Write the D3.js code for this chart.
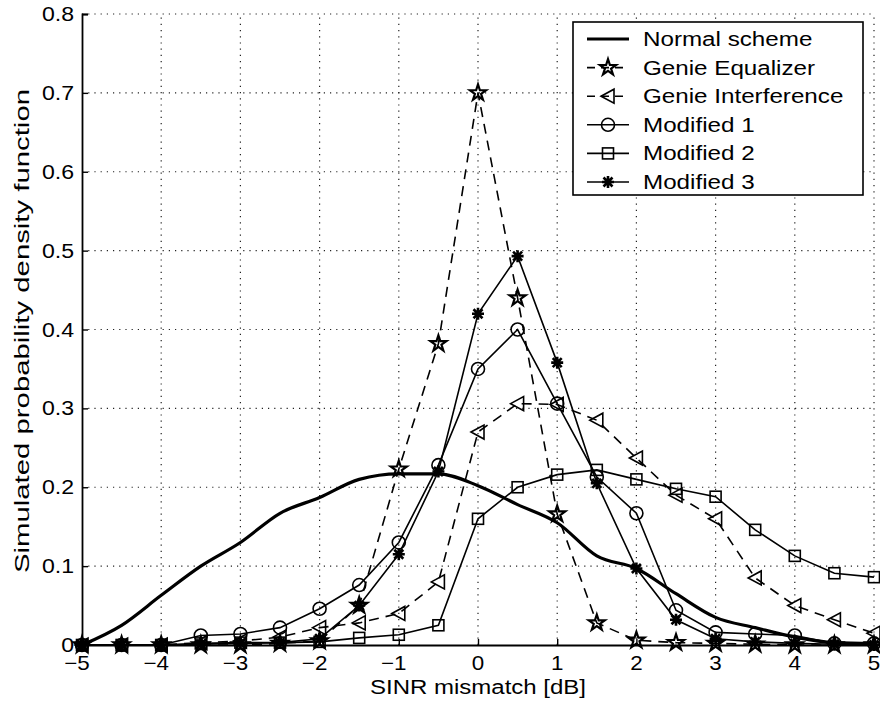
<!DOCTYPE html>
<html>
<head>
<meta charset="utf-8">
<script src="https://cdn.jsdelivr.net/npm/d3@7"></script>
<style>
  body { margin: 0; background: #fff; }
  svg text { font-family: "Liberation Sans", Arial, sans-serif; fill: #000; }
</style>
</head>
<body>
<svg id="chart" width="880" height="703"></svg>
<script>
// x positions (SINR mismatch in dB)
var xVals = [-5, -4.5, -4, -3.5, -3, -2.5, -2, -1.5, -1, -0.5, 0, 0.5, 1, 1.5, 2, 2.5, 3, 3.5, 4, 4.5, 5];

var normalScheme = [0, 0.025, 0.063, 0.1, 0.13, 0.167, 0.187, 0.21, 0.217, 0.217, 0.202, 0.178, 0.155, 0.113, 0.097, 0.065, 0.035, 0.022, 0.01, 0.003, 0.002];
var genieEqualizer = [0, 0, 0, 0, 0, 0.002, 0.005, 0.05, 0.223, 0.382, 0.70, 0.44, 0.166, 0.028, 0.006, 0.003, 0.002, 0.001, 0, 0, 0];
var genieInterference = [0, 0, 0, 0.003, 0.005, 0.01, 0.022, 0.028, 0.04, 0.08, 0.27, 0.306, 0.305, 0.285, 0.237, 0.19, 0.16, 0.085, 0.05, 0.032, 0.015];
var modified1 = [0, 0, 0, 0.012, 0.014, 0.022, 0.046, 0.076, 0.13, 0.228, 0.35, 0.40, 0.306, 0.213, 0.167, 0.044, 0.016, 0.014, 0.012, 0.002, 0.002];
var modified2 = [0, 0, 0, 0.002, 0.003, 0.003, 0.004, 0.009, 0.013, 0.025, 0.16, 0.20, 0.216, 0.222, 0.21, 0.198, 0.188, 0.146, 0.113, 0.091, 0.086];
var modified3 = [0, 0, 0, 0.001, 0.002, 0.003, 0.008, 0.05, 0.115, 0.22, 0.42, 0.493, 0.358, 0.205, 0.097, 0.032, 0.008, 0.004, 0.002, 0.001, 0];

var xTicks = [-5, -4, -3, -2, -1, 0, 1, 2, 3, 4, 5];
var yTicks = [0, 0.1, 0.2, 0.3, 0.4, 0.5, 0.6, 0.7, 0.8];

var seriesNames = ["Normal scheme", "Genie Equalizer", "Genie Interference", "Modified 1", "Modified 2", "Modified 3"];
var seriesValues = [normalScheme, genieEqualizer, genieInterference, modified1, modified2, modified3];
var seriesMarkers = ["none", "star", "triangle", "circle", "square", "asterisk"];
var seriesDashed = [false, true, true, false, false, false];

var svg = d3.select("#chart");

// plot area edges (note: "top" is reserved in browsers)
var pLeft = 82, pRight = 874, pTop = 14, pBottom = 645;

var x = d3.scaleLinear().domain([-5, 5]).range([pLeft, pRight]);
var y = d3.scaleLinear().domain([0, 0.8]).range([pBottom, pTop]);

function fmt(v) {
  return v < 0 ? "\u2212" + Math.abs(v) : String(v);
}

// text helper, the scanned font is a bit wider than Arial
function addText(g, tx, ty, str, size, sx, anchor) {
  return g.append("text")
      .attr("transform", "translate(" + tx + "," + ty + ") scale(" + sx + ",1)")
      .attr("text-anchor", anchor || "start")
      .style("font-size", size + "px")
      .text(str);
}

// dotted grid
var grid = svg.append("g");
grid.selectAll(".vgrid").data(xTicks.slice(1)).enter().append("line")
    .attr("x1", function(d) { return x(d); }).attr("x2", function(d) { return x(d); })
    .attr("y1", y(0)).attr("y2", y(0.8));
grid.selectAll(".hgrid").data(yTicks.slice(1)).enter().append("line")
    .attr("x1", x(-5)).attr("x2", x(5))
    .attr("y1", function(d) { return y(d); }).attr("y2", function(d) { return y(d); });
grid.selectAll("line")
    .attr("stroke", "#222").attr("stroke-width", 1.2).attr("stroke-dasharray", "1.2,5");

// axes
var xAxis = svg.append("g").attr("transform", "translate(0," + pBottom + ")")
    .call(d3.axisTop(x).tickValues(xTicks).tickSize(6).tickFormat(""));
xAxis.select(".domain").attr("stroke-width", 1.8);
xAxis.selectAll(".tick line").attr("stroke-width", 1.4);
xTicks.forEach(function(d) {
  addText(svg, x(d) - (d < 0 ? 5 : 0), pBottom + 25, fmt(d), 20, 1.12, "middle");
});

var yAxis = svg.append("g").attr("transform", "translate(" + pLeft + ",0)")
    .call(d3.axisRight(y).tickValues(yTicks).tickSize(6).tickFormat(""));
yAxis.select(".domain").attr("stroke-width", 1.8);
yAxis.selectAll(".tick line").attr("stroke-width", 1.4);
yTicks.forEach(function(d) {
  addText(svg, pLeft - 8, y(d) + 7, d === 0 ? "0" : d.toFixed(1), 21, 1.1, "end");
});

svg.append("text")
    .attr("x", x(0)).attr("y", 694)
    .attr("text-anchor", "middle")
    .attr("textLength", 216).attr("lengthAdjust", "spacingAndGlyphs")
    .style("font-size", "20px")
    .text("SINR mismatch [dB]");

svg.append("text")
    .attr("transform", "translate(29," + 331 + ") rotate(-90)")
    .attr("text-anchor", "middle")
    .attr("x", 0).attr("y", 0)
    .attr("textLength", 484).attr("lengthAdjust", "spacingAndGlyphs")
    .style("font-size", "21px")
    .text("Simulated probability density function");

// marker drawing
var starPath = d3.symbol().type(d3.symbolStar).size(80)();
var triPath = "M-7,0L6,-7L6,7Z";

function drawMarker(g, type) {
  if (type === "circle") {
    g.append("circle").attr("r", 6.5).attr("fill", "none").attr("stroke", "#000").attr("stroke-width", 1.6);
  } else if (type === "square") {
    g.append("rect").attr("x", -5.5).attr("y", -5.5).attr("width", 11).attr("height", 11)
        .attr("fill", "none").attr("stroke", "#000").attr("stroke-width", 1.6);
  } else if (type === "triangle") {
    g.append("path").attr("d", triPath).attr("fill", "none").attr("stroke", "#000").attr("stroke-width", 1.6);
  } else if (type === "star") {
    g.append("path").attr("d", starPath).attr("fill", "none").attr("stroke", "#000").attr("stroke-width", 2.2);
  } else if (type === "asterisk") {
    g.append("path").attr("d", "M-6,0L6,0M0,-6L0,6M-4.5,-4.5L4.5,4.5M-4.5,4.5L4.5,-4.5")
        .attr("stroke", "#000").attr("stroke-width", 2.6);
  }
}

// series
seriesValues.forEach(function(vals, i) {
  var pts = xVals.map(function(xv, j) { return [xv, vals[j]]; });
  var line = d3.line()
      .x(function(d) { return x(d[0]); })
      .y(function(d) { return y(d[1]); })
      .curve(i === 0 ? d3.curveMonotoneX : d3.curveLinear);
  svg.append("path")
      .attr("d", line(pts))
      .attr("fill", "none")
      .attr("stroke", "#000")
      .attr("stroke-width", i === 0 ? 3.2 : 1.6)
      .attr("stroke-dasharray", seriesDashed[i] ? "10,7" : null);
  if (seriesMarkers[i] !== "none") {
    svg.selectAll(".m" + i).data(pts).enter().append("g")
        .attr("transform", function(d) { return "translate(" + x(d[0]) + "," + y(d[1]) + ")"; })
        .each(function() { drawMarker(d3.select(this), seriesMarkers[i]); });
  }
});

// legend
var lx = 573, ly = 22, lw = 290, lh = 173;
var legend = svg.append("g");
legend.append("rect").attr("x", lx).attr("y", ly).attr("width", lw).attr("height", lh)
    .attr("fill", "#fff").attr("stroke", "#000").attr("stroke-width", 1.6);

seriesNames.forEach(function(name, i) {
  var cy = ly + 17 + i * 28.6;
  legend.append("line")
      .attr("x1", lx + 14).attr("x2", lx + 56)
      .attr("y1", cy).attr("y2", cy)
      .attr("stroke", "#000")
      .attr("stroke-width", i === 0 ? 3 : 1.6)
      .attr("stroke-dasharray", seriesDashed[i] ? "8,6" : null);
  if (seriesMarkers[i] !== "none") {
    var g = legend.append("g").attr("transform", "translate(" + (lx + 35) + "," + cy + ")");
    drawMarker(g, seriesMarkers[i]);
  }
  addText(legend, lx + 70, cy + 7, name, 20, 1.21, "start");
});
</script>
</body>
</html>
